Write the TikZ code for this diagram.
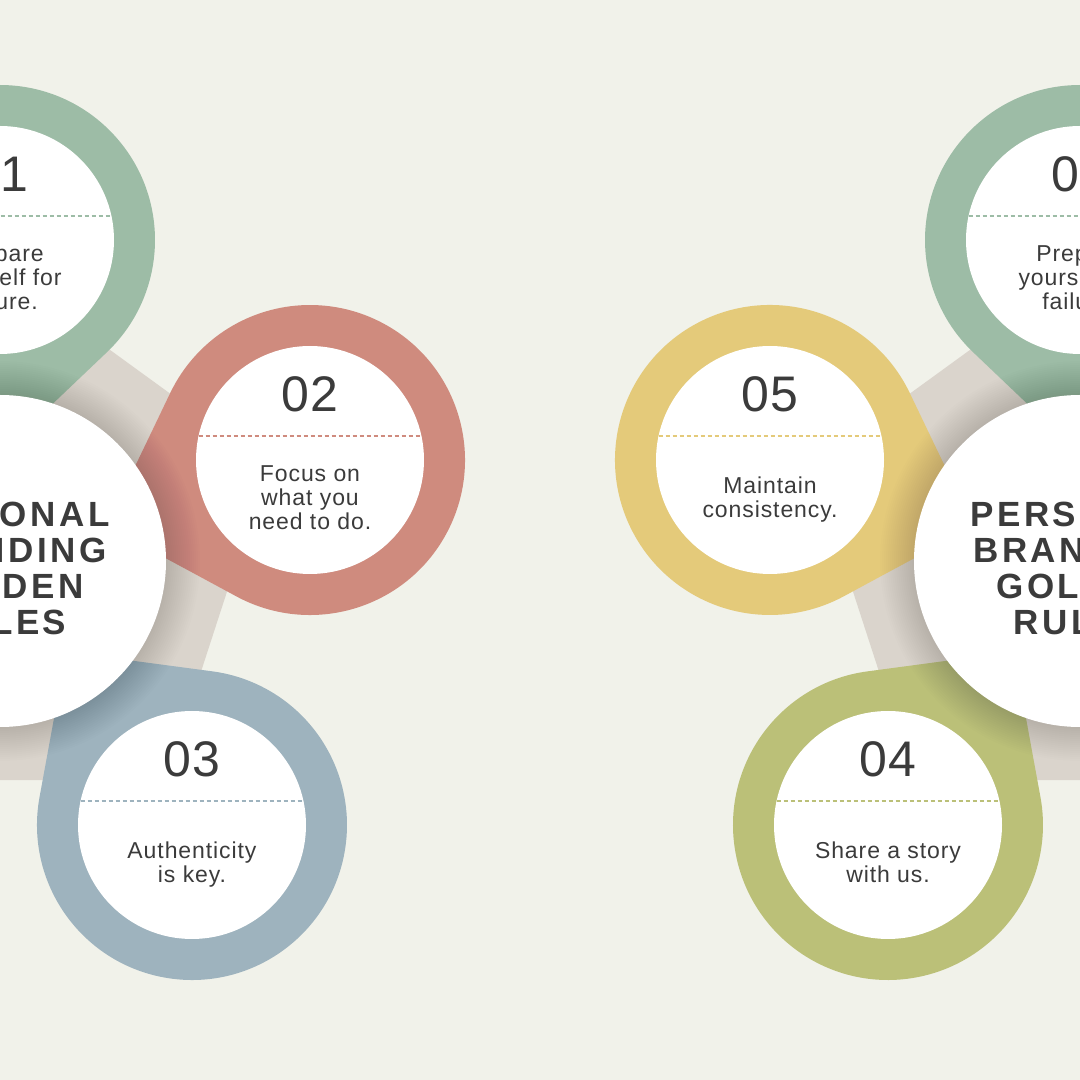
\documentclass[tikz,border=0pt]{standalone}
\usepackage{fontspec}
\setmainfont{Liberation Sans}
\newfontfamily\bodyfont[LetterSpace=4]{Liberation Sans}
\newfontfamily\numfont[LetterSpace=1]{Liberation Sans}
\newfontfamily\titlefont[LetterSpace=10]{Liberation Sans Bold}
\usetikzlibrary{calc}
\definecolor{bgc}{HTML}{F1F2EA}
\definecolor{spoke}{HTML}{DAD4CC}
\definecolor{cone}{HTML}{9DBCA6}
\definecolor{ctwo}{HTML}{CF8B7E}
\definecolor{cthree}{HTML}{9EB3BE}
\definecolor{cfour}{HTML}{BBC078}
\definecolor{cfive}{HTML}{E4CA7A}
\definecolor{txt}{HTML}{3B3B3B}
\tikzset{
  innerdisc/.style={circle, fill=white, minimum size=228pt, inner sep=0pt, draw=none},
  hubdisc/.style={circle, fill=white, minimum size=332pt, inner sep=0pt, draw=none},
  numtxt/.style={inner sep=0pt, text=txt, font=\numfont\fontsize{50}{50}\selectfont},
  bodytxt/.style={inner sep=0pt, text=txt, align=center, font=\bodyfont\fontsize{23}{24}\selectfont},
  titletxt/.style={inner sep=0pt, text=txt, align=center, font=\titlefont\fontsize{35}{36}\selectfont},
  sepline/.style={line width=1.5pt, dash pattern=on 4pt off 3pt},
}
% #1 name, #2 x, #3 y, #4 angle of ring seen from hub, #5 colour, #6 number, #7 text
\newcommand{\pbring}[7]{%
  \fill[#5] ({#2},{#3}) ++({#4+223.6}:155) arc[start angle={#4+223.6}, end angle={#4+496.4}, radius=155] -- ($({#2},{#3})+({#4+180}:214)$) -- cycle;
  \node[innerdisc] (#1) at ({#2},{#3}) {};
  \draw[sepline, #5] ($(#1.center)+(-111.4,24)$) -- ($(#1.center)+(111.4,24)$);
  \node[numtxt] (#1num) at ($(#1.center)+(0,66)$) {#6};
  \node[bodytxt] (#1txt) at ($(#1.center)+(0,-46)$) {\rule{0pt}{20pt}#7\rule[-20pt]{0pt}{20pt}};
}
\begin{document}
\begin{tikzpicture}[x=1pt, y=1pt]
  \useasboundingbox (0,0) rectangle (1080,1080);
  \fill[bgc] (0,0) rectangle (1080,1080);
  \clip (0,0) rectangle (1080,1080);
  % spoke pentagons
  \begin{scope}[shift={(0,528)}]
    \fill[spoke] (90:282) -- (18:282) -- (-54:282) -- (-126:282) -- (162:282) -- cycle;
  \end{scope}
  \begin{scope}[shift={(1080,528)}]
    \fill[spoke] (90:282) -- (18:282) -- (-54:282) -- (-126:282) -- (162:282) -- cycle;
  \end{scope}
  % left cluster rings
  \pbring{la}{0}{840}{90}{cone}{01}{Prepare\\yourself for\\failure.}
  \pbring{lb}{310}{620}{18}{ctwo}{02}{Focus on\\what you\\need to do.}
  \pbring{lc}{192}{255}{-54}{cthree}{03}{Authenticity\\is key.}
  % right cluster rings
  \pbring{ra}{1080}{840}{90}{cone}{01}{Prepare\\yourself for\\failure.}
  \pbring{re}{770}{620}{162}{cfive}{05}{Maintain\\consistency.}
  \pbring{rd}{888}{255}{234}{cfour}{04}{Share a story\\with us.}
  % soft shadows round the hubs
  \foreach \r in {200,198,...,168} {
    \fill[black, opacity=0.009] (0,519) circle (\r);
    \fill[black, opacity=0.009] (1080,519) circle (\r);
  }
  % hubs
  \node[hubdisc] (hubl) at (0,519) {};
  \node[hubdisc] (hubr) at (1080,519) {};
  \node[titletxt] (titlel) at (0,511.5) {PERSONAL\\BRANDING\\GOLDEN\\RULES};
  \node[titletxt] (titler) at (1080,511.5) {PERSONAL\\BRANDING\\GOLDEN\\RULES};
\end{tikzpicture}
\end{document}
